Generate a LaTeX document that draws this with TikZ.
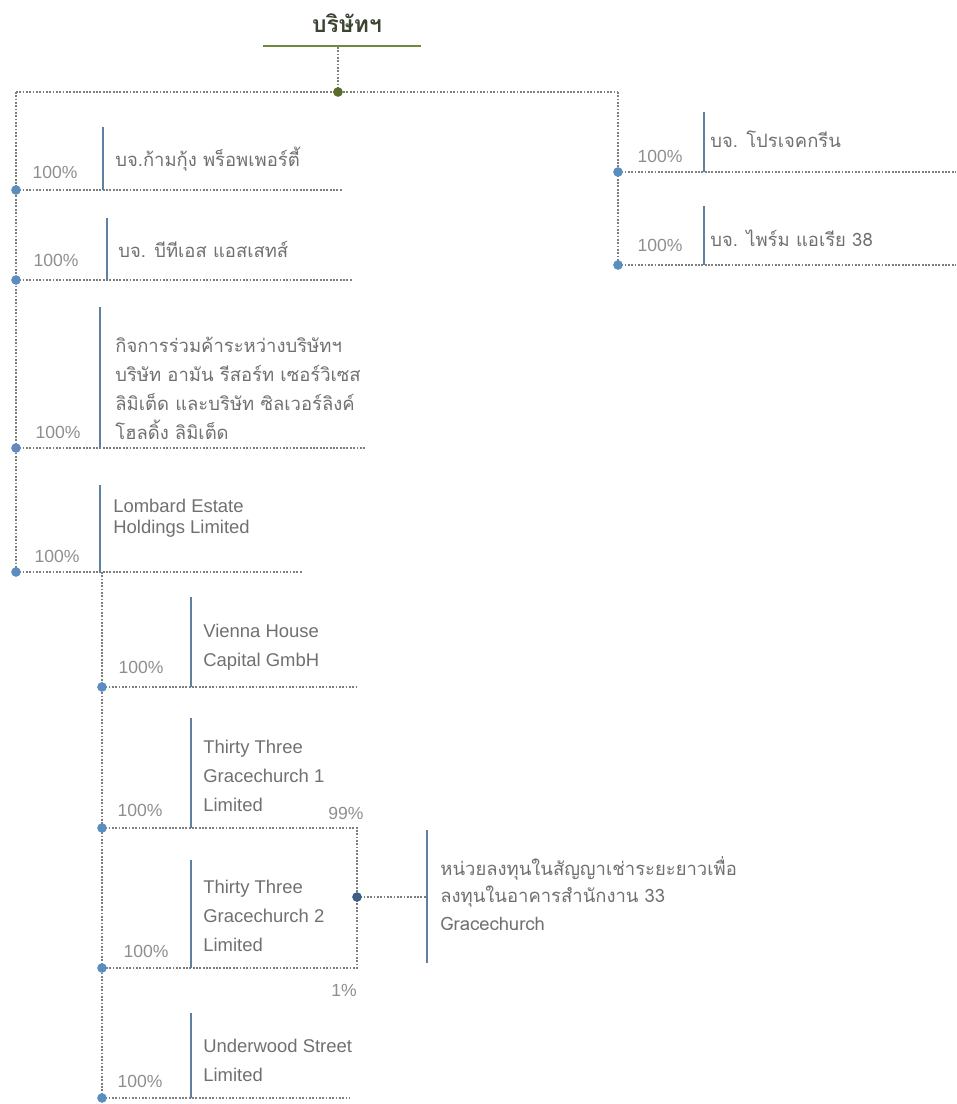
\documentclass[tikz,border=0pt]{standalone}
\usepackage{fontspec}
\setmainfont{Liberation Sans}
\newfontfamily\thaifont[Script=Thai]{Loma}
\definecolor{linegray}{HTML}{7E7E7E}
\definecolor{textgray}{HTML}{707070}
\definecolor{pctgray}{HTML}{8E8E8E}
\definecolor{barblue}{HTML}{5F819F}
\definecolor{dotblue}{HTML}{5B8DBE}
\definecolor{dotnavy}{HTML}{3D5F87}
\definecolor{rulegreen}{HTML}{6E8B3D}
\definecolor{hubgreen}{HTML}{5A6B2A}
\definecolor{titleink}{HTML}{3A4430}

\tikzset{
  link/.style={draw=linegray, line width=1pt, dash pattern=on 1pt off 0.9pt},
  bar/.style={draw=barblue, line width=1.3pt},
  joint/.style={circle, fill=dotblue, inner sep=0pt, minimum size=5.5pt},
  pct/.style={text=pctgray, inner sep=0pt, font=\fontsize{10}{12}\selectfont},
  co/.style={text=textgray, inner sep=0pt, anchor=base west, align=left},
  thco/.style={co, font=\thaifont\fontsize{10.5}{16.5}\selectfont},
  enco/.style={co, font=\fontsize{10.5}{16.3}\selectfont},
}

\begin{document}
\begin{tikzpicture}[x=0.02cm,y=-0.02cm]
  \useasboundingbox (0,0) rectangle (956,1104);

  % parent company
  \node[text=titleink, inner sep=0pt, font=\thaifont\bfseries\fontsize{13}{15}\selectfont] (parent) at (347,23) {บริษัทฯ};
  \draw[draw=rulegreen, line width=1.7pt] (263,46) -- (421,46);
  \coordinate (rulemid) at (338,47);
  \coordinate (hub) at (338,92);
  \coordinate (L0) at (16,92);
  \coordinate (R0) at (618,92);
  \draw[link] (rulemid) -- (hub);
  \draw[link] (L0) -- (R0);

  % left column
  \coordinate (L1) at (16,190);
  \coordinate (L2) at (16,280);
  \coordinate (L3) at (16,448);
  \coordinate (L4) at (16,572);
  \draw[link] (L0) -- (L4);
  \draw[link] (L1) -- (343,190);
  \draw[link] (L2) -- (352,280);
  \draw[link] (L3) -- (365,448);
  \draw[link] (L4) -- (302,572);

  \draw[bar] (103,127) -- (103,190);
  \draw[bar] (107,218) -- (107,280);
  \draw[bar] (100,307) -- (100,448);
  \draw[bar] (100,485) -- (100,572);

  \node[pct] (pL1) at (55,172) {100\%};
  \node[pct] (pL2) at (56,260) {100\%};
  \node[pct] (pL3) at (58,432) {100\%};
  \node[pct] (pL4) at (57,556) {100\%};

  % base = baseline of the last line
  \node[thco] (kamkung) at (115,167) {บจ.ก้ามกุ้ง พร็อพเพอร์ตี้};
  \node[thco] (btsassets) at (118,258) {บจ. บีทีเอส แอสเสทส์};
  \node[thco] (jointvent) at (115,439) {กิจการร่วมค้าระหว่างบริษัทฯ\\บริษัท อามัน รีสอร์ท เซอร์วิเซส\\ลิมิเต็ด และบริษัท ซิลเวอร์ลิงค์\\โฮลดิ้ง ลิมิเต็ด};
  \node[co, font=\fontsize{10.5}{11.4}\selectfont] (lombard) at (113,533) {Lombard Estate\\Holdings Limited};

  % right column
  \coordinate (R1) at (618,172);
  \coordinate (R2) at (618,265);
  \draw[link] (R0) -- (R2);
  \draw[link] (R1) -- (956,172);
  \draw[link] (R2) -- (956,265);
  \draw[bar] (704,112) -- (704,172);
  \draw[bar] (704,206) -- (704,265);
  \node[pct] (pR1) at (660,156) {100\%};
  \node[pct] (pR2) at (660,245) {100\%};
  \node[thco] (greenprj) at (710,148) {บจ. โปรเจคกรีน};
  \node[thco] (prime38) at (710,247) {บจ. ไพร์ม แอเรีย 38};

  % Lombard subsidiaries
  \coordinate (S0) at (102,572);
  \coordinate (S1) at (102,687);
  \coordinate (S2) at (102,828);
  \coordinate (S3) at (102,968);
  \coordinate (S4) at (102,1098);
  \coordinate (C1) at (357,828);
  \coordinate (C2) at (357,968);
  \coordinate (fundj) at (357,897);
  \coordinate (fundbar) at (427,897);
  \draw[link] (S0) -- (S4);
  \draw[link] (S1) -- (357,687);
  \draw[link] (S2) -- (C1) -- (C2) -- (S3);
  \draw[link] (S4) -- (350,1098);
  \draw[link] (fundj) -- (fundbar);

  \draw[bar] (191,597) -- (191,687);
  \draw[bar] (191,718) -- (191,828);
  \draw[bar] (191,860) -- (191,968);
  \draw[bar] (191,1013) -- (191,1098);
  \draw[bar] (427,830) -- (427,963);

  \node[pct] (pS1) at (141,667) {100\%};
  \node[pct] (pS2) at (140,810) {100\%};
  \node[pct] (pS3) at (146,951) {100\%};
  \node[pct] (pS4) at (140,1081) {100\%};
  \node[pct] (p99) at (346,813) {99\%};
  \node[pct] (p1) at (344,990) {1\%};

  \node[enco] (vienna) at (203,666) {Vienna House\\Capital GmbH};
  \node[enco] (gcone) at (203,811) {Thirty Three\\Gracechurch 1\\Limited};
  \node[enco] (gctwo) at (203,951) {Thirty Three\\Gracechurch 2\\Limited};
  \node[enco] (underwood) at (203,1081) {Underwood Street\\Limited};
  \node[thco, font=\thaifont\fontsize{10.5}{15.4}\selectfont] (leasefund) at (440,930) {หน่วยลงทุนในสัญญาเช่าระยะยาวเพื่อ\\ลงทุนในอาคารสำนักงาน 33\\Gracechurch};

  % joints
  \foreach \j in {L1,L2,L3,L4,R1,R2,S1,S2,S3,S4}
    {\node[joint] at (\j) {};}
  \node[joint, fill=hubgreen] at (hub) {};
  \node[joint, fill=dotnavy] at (fundj) {};
\end{tikzpicture}
\end{document}
